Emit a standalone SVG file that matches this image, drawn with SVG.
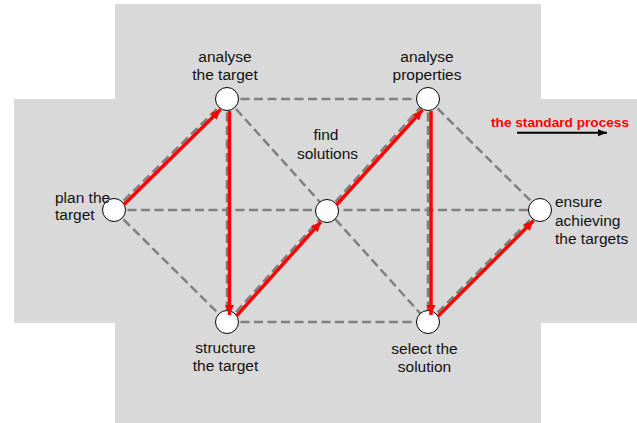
<svg xmlns="http://www.w3.org/2000/svg" width="637" height="423" viewBox="0 0 637 423">
<style>
.bg{fill:#d9d9d9}
.d{stroke:#808080;stroke-width:2.5;stroke-dasharray:9 4.5;fill:none}
.r{stroke:#ff0000;stroke-width:3.5;fill:none;marker-end:url(#ar)}
.n{fill:#ffffff;stroke:#000000;stroke-width:1}
.t{font-family:"Liberation Sans",Arial,sans-serif;font-size:15.5px;fill:#111111}
.c{text-anchor:middle}
</style>
<defs>
<marker id="ar" markerUnits="userSpaceOnUse" markerWidth="12" markerHeight="10" refX="10" refY="4.5" orient="auto">
<path d="M0,0 L10,4.5 L0,9 Z" fill="#ff0000"/>
</marker>
<marker id="ab" markerUnits="userSpaceOnUse" markerWidth="10" markerHeight="8" refX="9" refY="3.5" orient="auto">
<path d="M0,0 L9,3.5 L0,7 Z" fill="#000000"/>
</marker>
</defs>
<rect class="bg" x="115" y="4" width="426" height="419"/>
<rect class="bg" x="14" y="99" width="623" height="224"/>
<g id="connectors">
<line class="d" x1="114" y1="210" x2="227" y2="99"/>
<line class="d" x1="114" y1="210" x2="540" y2="210"/>
<line class="d" x1="114" y1="210" x2="227" y2="322"/>
<line class="d" x1="227" y1="99" x2="428" y2="99"/>
<line class="d" x1="227" y1="99" x2="227" y2="322"/>
<line class="d" x1="227" y1="99" x2="428" y2="322"/>
<line class="d" x1="227" y1="322" x2="428" y2="99"/>
<line class="d" x1="428" y1="99" x2="428" y2="322"/>
<line class="d" x1="428" y1="99" x2="540" y2="210"/>
<line class="d" x1="227" y1="322" x2="428" y2="322"/>
<line class="d" x1="428" y1="322" x2="540" y2="210"/>
</g>
<g id="plan"><circle class="n" cx="114" cy="210" r="11.5"/>
<text class="t" x="55" y="202.5">plan the</text><text class="t" x="55" y="220">target</text></g>
<g id="analyse-target"><circle class="n" cx="227" cy="99" r="11.5"/>
<text class="t c" x="225" y="61.5">analyse</text><text class="t c" x="225" y="80">the target</text></g>
<g id="analyse-properties"><circle class="n" cx="428" cy="99" r="11.5"/>
<text class="t c" x="427" y="61.5">analyse</text><text class="t c" x="427" y="80">properties</text></g>
<g id="find"><circle class="n" cx="327" cy="211" r="11.5"/>
<text class="t c" x="326" y="140">find</text><text class="t c" x="327.5" y="158.5">solutions</text></g>
<g id="ensure"><circle class="n" cx="540" cy="210" r="11.5"/>
<text class="t" x="555" y="207">ensure</text><text class="t" x="555" y="225.5">achieving</text><text class="t" x="555" y="244">the targets</text></g>
<g id="structure"><circle class="n" cx="227" cy="322" r="11.5"/>
<text class="t c" x="225.5" y="352.5">structure</text><text class="t c" x="225.5" y="371">the target</text></g>
<g id="select"><circle class="n" cx="428" cy="322" r="11.5"/>
<text class="t c" x="424.5" y="353.5">select the</text><text class="t c" x="424.5" y="372">solution</text></g>
<g id="process">
<line class="r" x1="124" y1="204.5" x2="220.6" y2="109.5"/>
<line class="r" x1="229.5" y1="111" x2="229.5" y2="315"/>
<line class="r" x1="236.6" y1="315.8" x2="321" y2="221.8"/>
<line class="r" x1="336.6" y1="204.8" x2="422.5" y2="110"/>
<line class="r" x1="431" y1="111" x2="431" y2="315"/>
<line class="r" x1="437.9" y1="316.3" x2="533.6" y2="220.6"/>
</g>
<g id="legend">
<text x="491" y="126.7" font-family="Liberation Sans,Arial,sans-serif" font-weight="bold" font-size="13.7" fill="#ff0000" textLength="138" lengthAdjust="spacingAndGlyphs">the standard process</text>
<line x1="517" y1="132.7" x2="607" y2="132.7" stroke="#000" stroke-width="2" marker-end="url(#ab)"/>
</g>
</svg>
